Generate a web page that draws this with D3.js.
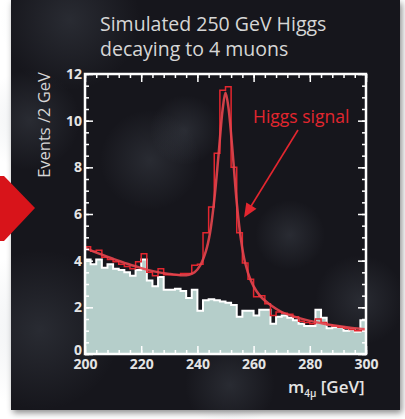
<!DOCTYPE html>
<html>
<head>
<meta charset="utf-8">
<script src="https://cdn.jsdelivr.net/npm/d3@7"></script>
<style>
  body { margin: 0; background: #fff; }
  svg { display: block; }
</style>
</head>
<body>
<script>
const w = 405;
const h = 419;

// 2 GeV bins from 200 to 300 GeV
const binLow = d3.range(200, 300, 2);
const backgroundCounts = [
  4.05, 3.85, 4.05, 3.7, 3.85, 3.65, 3.6, 3.5, 3.35, 3.6,
  4.05, 3.15, 2.9, 3.3, 2.75, 2.75, 2.8, 2.7, 2.4, 2.75,
  1.85, 2.3, 2.35, 2.3, 2.25, 2.2, 2.1, 1.6, 1.85, 1.85,
  1.65, 1.9, 1.9, 1.3, 1.6, 1.65, 1.55, 1.45, 1.3, 1.2,
  1.2, 1.9, 1.55, 1.1, 1.15, 1.15, 1.0, 1.05, 0.95, 1.45
];
const signalCounts = [
  4.6, 4.4, 4.45, 4.15, 4.05, 3.95, 3.85, 3.75, 3.65, 3.95,
  4.3, 3.5, 3.35, 3.65, 3.4, 3.4, 3.4, 3.45, 3.45, 3.8,
  3.85, 5.2, 6.3, 8.6, 11.3, 11.45, 8.0, 5.2, 3.9, 3.2,
  2.45, 2.5, 2.15, 1.65, 1.8, 1.75, 1.7, 1.6, 1.4, 1.35,
  1.3, 1.5, 1.35, 1.25, 1.2, 1.15, 1.1, 1.05, 1.0, 1.0
];
const fitMass = [200, 205, 210, 215, 220, 225, 230, 234, 237, 239, 241, 243, 244.5, 246, 247.5, 249, 250,
  251, 252.5, 254, 255.5, 257, 259, 261, 263, 266, 270, 275, 280, 285, 290, 295, 300];
const fitValue = [4.55, 4.3, 4.08, 3.87, 3.68, 3.53, 3.43, 3.38, 3.4, 3.5, 3.8, 4.4, 5.2, 6.6, 8.5, 10.5, 11.2,
  10.6, 8.7, 6.5, 4.9, 3.9, 3.15, 2.7, 2.4, 2.1, 1.8, 1.58, 1.42, 1.3, 1.2, 1.12, 1.06];
const xTicks = [200, 220, 240, 260, 280, 300];
const xMinor = d3.range(200, 301, 4);
const yTicks = [0, 2, 4, 6, 8, 10, 12];
const yMinor = d3.range(0, 12.01, 0.5);

const plotLeft = 85, plotRight = 366, plotTop = 74, plotBottom = 354;

const svg = d3.select('body')
  .append('svg')
  .attr('width', w)
  .attr('height', h);

const defs = svg.append('defs');
const blob = defs.append('radialGradient').attr('id', 'blob');
blob.append('stop').attr('offset', '0%').attr('stop-color', '#8d9aa8').attr('stop-opacity', 0.16);
blob.append('stop').attr('offset', '100%').attr('stop-color', '#8d9aa8').attr('stop-opacity', 0);
const shadow = defs.append('filter').attr('id', 'shadow').attr('x', '-5%').attr('y', '-5%').attr('width', '112%').attr('height', '112%');
shadow.append('feDropShadow').attr('dx', 2).attr('dy', 3).attr('stdDeviation', 3).attr('flood-color', '#000').attr('flood-opacity', 0.45);

// dark sky panel
svg.append('rect')
  .attr('x', 11).attr('y', 0)
  .attr('width', 389).attr('height', 410)
  .attr('fill', '#16181b')
  .attr('filter', 'url(#shadow)');

const blobs = [[70, 20, 70], [150, 160, 50], [185, 130, 35], [40, 330, 80], [130, 300, 40], [290, 235, 35], [360, 300, 45], [230, 385, 45], [30, 120, 50]];
svg.append('g').selectAll('circle')
  .data(blobs)
  .enter()
  .append('circle')
  .attr('cx', (d) => d[0])
  .attr('cy', (d) => d[1])
  .attr('r', (d) => d[2])
  .attr('fill', 'url(#blob)');

// red arrow at the left edge
svg.append('polygon')
  .attr('points', '0,176 4,176 35,208 4,241 0,241')
  .attr('fill', '#d8141a');

// title
svg.append('text')
  .attr('x', 100).attr('y', 31)
  .attr('fill', '#d6d6d6')
  .style('font', '19.5px "Open Sans", sans-serif')
  .text('Simulated 250 GeV Higgs');
svg.append('text')
  .attr('x', 100).attr('y', 56)
  .attr('fill', '#d6d6d6')
  .style('font', '19.5px "Open Sans", sans-serif')
  .text('decaying to 4 muons');

const xScale = d3.scaleLinear().domain([200, 300]).range([plotLeft, plotRight]);
const yScale = d3.scaleLinear().domain([0, 12]).range([plotBottom, plotTop]);

const stepData = (counts) => binLow.map((b, i) => [b, counts[i]]).concat([[300, counts[counts.length - 1]]]);

// background histogram
svg.append('path')
  .datum(stepData(backgroundCounts))
  .attr('fill', '#b5ceca')
  .attr('d', d3.area()
    .curve(d3.curveStepAfter)
    .x((d) => xScale(d[0]))
    .y0(yScale(0))
    .y1((d) => yScale(d[1])));
svg.append('path')
  .datum(stepData(backgroundCounts))
  .attr('fill', 'none')
  .attr('stroke', '#fff')
  .attr('stroke-width', 2)
  .attr('d', d3.line()
    .curve(d3.curveStepAfter)
    .x((d) => xScale(d[0]))
    .y((d) => yScale(d[1])));

// signal + background histogram
svg.append('path')
  .datum(stepData(signalCounts))
  .attr('fill', 'none')
  .attr('stroke', '#e3262f')
  .attr('stroke-width', 1.5)
  .attr('d', d3.line()
    .curve(d3.curveStepAfter)
    .x((d) => xScale(d[0]))
    .y((d) => yScale(d[1])));

// fit curve
svg.append('path')
  .datum(fitMass.map((m, i) => [m, fitValue[i]]))
  .attr('fill', 'none')
  .attr('stroke', '#e5454e')
  .attr('stroke-width', 2.5)
  .attr('opacity', 0.9)
  .attr('d', d3.line()
    .curve(d3.curveCatmullRom)
    .x((d) => xScale(d[0]))
    .y((d) => yScale(d[1])));

// axes: white, ticks pointing inward on all four sides
const tickFont = 'bold 14px "Open Sans", sans-serif';
function styleAxis(g) {
  g.select('.domain').remove();
  g.selectAll('line').attr('stroke', '#fff').attr('stroke-width', 1.5);
  g.selectAll('text').attr('fill', '#e4e4e4').style('font', tickFont);
}

svg.append('g')
  .attr('transform', 'translate(0,' + plotBottom + ')')
  .call(d3.axisBottom(xScale).tickValues(xMinor).tickFormat('').tickSizeInner(-4).tickSizeOuter(0))
  .call(styleAxis);
svg.append('g')
  .attr('transform', 'translate(0,' + plotBottom + ')')
  .call(d3.axisBottom(xScale).tickValues(xTicks).tickSizeInner(-8).tickSizeOuter(0).tickPadding(5))
  .call(styleAxis);
svg.append('g')
  .attr('transform', 'translate(0,' + plotTop + ')')
  .call(d3.axisTop(xScale).tickValues(xMinor).tickFormat('').tickSizeInner(-4).tickSizeOuter(0))
  .call(styleAxis);
svg.append('g')
  .attr('transform', 'translate(0,' + plotTop + ')')
  .call(d3.axisTop(xScale).tickValues(xTicks).tickFormat('').tickSizeInner(-8).tickSizeOuter(0))
  .call(styleAxis);

svg.append('g')
  .attr('transform', 'translate(' + plotLeft + ',0)')
  .call(d3.axisLeft(yScale).tickValues(yMinor).tickFormat('').tickSizeInner(-4).tickSizeOuter(0))
  .call(styleAxis);
svg.append('g')
  .attr('transform', 'translate(' + plotLeft + ',0)')
  .call(d3.axisLeft(yScale).tickValues(yTicks).tickSizeInner(-8).tickSizeOuter(0).tickPadding(3))
  .call(styleAxis)
  .call((g) => g.selectAll('.tick').filter((d) => d === 0).select('text').attr('dy', '0.05em'));
svg.append('g')
  .attr('transform', 'translate(' + plotRight + ',0)')
  .call(d3.axisRight(yScale).tickValues(yMinor).tickFormat('').tickSizeInner(-4).tickSizeOuter(0))
  .call(styleAxis);
svg.append('g')
  .attr('transform', 'translate(' + plotRight + ',0)')
  .call(d3.axisRight(yScale).tickValues(yTicks).tickFormat('').tickSizeInner(-8).tickSizeOuter(0))
  .call(styleAxis);

// frame
svg.append('rect')
  .attr('x', plotLeft).attr('y', plotTop)
  .attr('width', plotRight - plotLeft).attr('height', plotBottom - plotTop)
  .attr('fill', 'none')
  .attr('stroke', '#fff')
  .attr('stroke-width', 2.5);

// axis titles
svg.append('text')
  .attr('transform', 'translate(50,125) rotate(-90)')
  .attr('text-anchor', 'middle')
  .attr('fill', '#d6d6d6')
  .style('font', '16.5px "Open Sans", sans-serif')
  .text('Events /2 GeV');

const xLabel = svg.append('text')
  .attr('x', 288).attr('y', 393)
  .attr('fill', '#e4e4e4')
  .style('font', '600 17px "Open Sans", sans-serif');
xLabel.append('tspan').text('m');
xLabel.append('tspan').attr('dy', 4).style('font-size', '10px').text('4μ');
xLabel.append('tspan').attr('dy', -4).text(' [GeV]');

// annotation
svg.append('text')
  .attr('x', 253).attr('y', 123)
  .attr('fill', '#e3262f')
  .style('font', '17.5px "Open Sans", sans-serif')
  .text('Higgs signal');

const tail = [275.8, 9.6];
const tip = [256.6, 5.85];
const tx = xScale(tip[0]), ty = yScale(tip[1]);
const sx = xScale(tail[0]), sy = yScale(tail[1]);
const ang = Math.atan2(ty - sy, tx - sx);
const headLen = 14, headW = 6;
svg.append('line')
  .attr('x1', sx).attr('y1', sy)
  .attr('x2', tx - Math.cos(ang) * headLen * 0.8).attr('y2', ty - Math.sin(ang) * headLen * 0.8)
  .attr('stroke', '#e3262f')
  .attr('stroke-width', 1.6);
const bx = tx - Math.cos(ang) * headLen, by = ty - Math.sin(ang) * headLen;
svg.append('polygon')
  .attr('points', [
    [tx, ty],
    [bx + Math.sin(ang) * headW, by - Math.cos(ang) * headW],
    [bx - Math.sin(ang) * headW, by + Math.cos(ang) * headW]
  ].map((p) => p.join(',')).join(' '))
  .attr('fill', '#e3262f');
</script>
</body>
</html>
